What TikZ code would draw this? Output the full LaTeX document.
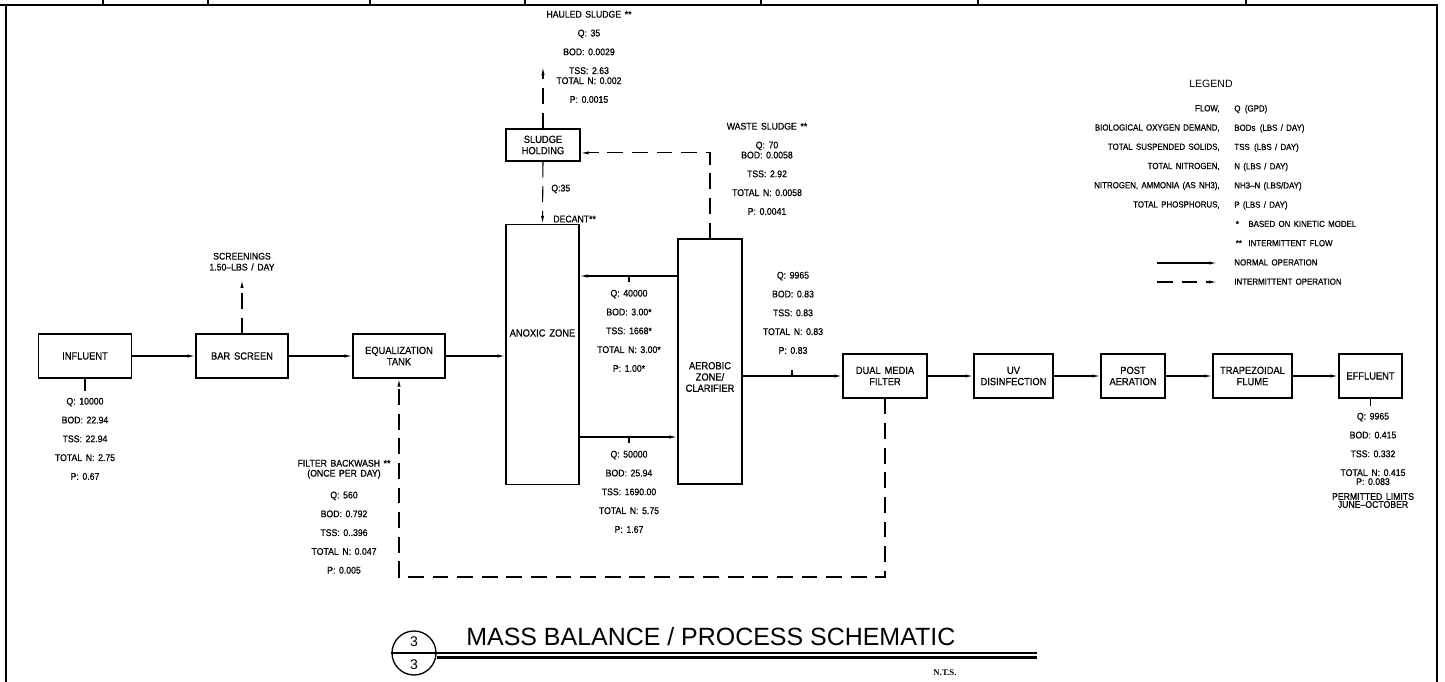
\documentclass[tikz,border=0pt]{standalone}
\usepackage{fontspec}
\setmainfont{Liberation Sans}[WordSpace=1.5,FakeStretch=0.9,FakeBold=0.6]
\newfontfamily\titlefont{Liberation Sans}
\newfontfamily\ntsfont{Liberation Serif}
\usetikzlibrary{arrows.meta,positioning}

\newcommand\lblsize{\fontsize{5.5}{10.7}\selectfont}
\newcommand\boxsize{\fontsize{5.9}{6.4}\selectfont}
\newcommand\lgdsize{\fontsize{5}{10.95}\selectfont}

\begin{document}
\begin{tikzpicture}[x=0.02cm,y=-0.02cm,>={Latex[length=4.5pt,width=1.8pt]},
  box/.style={draw,line width=0.75pt,minimum height=0.88cm,align=center,font=\boxsize,inner sep=1pt},
  flow/.style={line width=0.6pt,->},
  interm/.style={flow,dash pattern=on 9pt off 5pt},
  data/.style={align=center,font=\lblsize,inner sep=0pt,anchor=north},
  tick/.style={line width=0.6pt}]
\useasboundingbox (0,0) rectangle (1445,682);

% sheet frame
\draw[line width=0.8pt] (6,682) -- (6,5) -- (1437,5) -- (1437,682);
\draw[line width=0.8pt] (0,5) -- (6,5);
\foreach \x in {103,208,370,525,761,978,1246}
  \draw[line width=0.6pt] (\x,0) -- (\x,5);

% process units
\node[box,minimum width=1.86cm] (infl) at (85,356) {INFLUENT};
\node[box,minimum width=1.84cm] (bars) at (242,356) {BAR SCREEN};
\node[box,minimum width=1.84cm] (eqt) at (399,356) {EQUALIZATION\\TANK};
\node[box,minimum width=1.46cm,minimum height=5.2cm] (anox) at (542.5,354.5) {};
\node[font=\boxsize] (anoxtxt) at (542.5,333) {ANOXIC ZONE};
\node[box,minimum width=1.28cm,minimum height=4.9cm] (aero) at (710,361.5) {};
\node[font=\boxsize,align=center] (aerotxt) at (710,377) {AEROBIC\\ZONE/\\CLARIFIER};
\node[box,minimum width=1.48cm,minimum height=0.64cm] (sludge) at (543,145) {SLUDGE\\HOLDING};
\node[box,minimum width=1.68cm] (dmf) at (885,376) {DUAL MEDIA\\FILTER};
\node[box,minimum width=1.58cm] (uvd) at (1013.5,376) {UV\\DISINFECTION};
\node[box,minimum width=1.28cm] (post) at (1133,376) {POST\\AERATION};
\node[box,minimum width=1.58cm] (flume) at (1252.5,376) {TRAPEZOIDAL\\FLUME};
\node[box,minimum width=1.26cm] (effl) at (1370.5,376) {EFFLUENT};

% normal flow
\draw[flow] (infl) -- (bars);
\draw[flow] (bars) -- (eqt);
\draw[flow] (eqt) -- (anox.west |- eqt);
\coordinate (rec) at (629,276);
\coordinate (fwd) at (629,437);
\draw[flow] (aero.west |- rec) -- (anox.east |- rec);
\draw[flow] (anox.east |- fwd) -- (aero.west |- fwd);
\draw[tick] (rec) -- ++(0,6);
\draw[tick] (fwd) -- ++(0,6);
\draw[flow] (aero.east |- dmf) -- (dmf);
\coordinate (outtick) at (792,376);
\draw[tick] (outtick) -- ++(0,-6);
\draw[flow] (dmf) -- (uvd);
\draw[flow] (uvd) -- (post);
\draw[flow] (post) -- (flume);
\draw[flow] (flume) -- (effl);
\draw[tick] (infl.south) -- ++(0,12);
\draw[tick] (effl.south) -- ++(0,7);

% intermittent flow
\coordinate (scr) at (242,280);
\draw[interm] (bars.north) -- (scr);
\coordinate (haul) at (543,67);
\draw[interm] (sludge.north) -- (haul);
\draw[interm] (sludge.south) -- (anox.north);
\draw[interm] (aero.north) |- ([yshift=-4.5pt]sludge.east);
\coordinate (bw) at (399,577);
\draw[interm] (dmf.south) |- (bw) -- (eqt.south);

% stream data
\node[data] (scrlbl) at (242,252.5) {SCREENINGS\\[-4.5pt]1.50--LBS / DAY};
\node[data] (infdata) at (85,397.5) {Q: 10000\\BOD: 22.94\\TSS: 22.94\\TOTAL N: 2.75\\P: 0.67};
\node[data] (recdata) at (629,289.5) {Q: 40000\\BOD: 3.00*\\TSS: 1668*\\TOTAL N: 3.00*\\P: 1.00*};
\node[data] (fwddata) at (629,450.5) {Q: 50000\\BOD: 25.94\\TSS: 1690.00\\TOTAL N: 5.75\\P: 1.67};
\node[data] (outdata) at (793,271.5) {Q: 9965\\BOD: 0.83\\TSS: 0.83\\TOTAL N: 0.83\\P: 0.83};
\node[data] (effdata) at (1373,412.5) {Q: 9965\\BOD: 0.415\\TSS: 0.332\\TOTAL N: 0.415\\[-5.6pt]P: 0.083\\[-2.2pt]PERMITTED LIMITS\\[-6.2pt]JUNE--OCTOBER};
\node[data] (bwdata) at (344,459.5) {FILTER BACKWASH **\\[-5pt](ONCE PER DAY)\\[1.7pt]Q: 560\\BOD: 0.792\\TSS: 0..396\\TOTAL N: 0.047\\P: 0.005};
\node[data] (hauldata) at (589,10.5) {HAULED SLUDGE **\\Q: 35\\BOD: 0.0029\\TSS: 2.63\\[-5pt]TOTAL N: 0.002\\P: 0.0015};
\node[data] (wastedata) at (767,122.5) {WASTE SLUDGE **\\Q: 70\\[-5pt]BOD: 0.0058\\TSS: 2.92\\TOTAL N: 0.0058\\P: 0.0041};
\node[font=\lblsize,anchor=west,inner sep=0pt] (qdec) at (551,189) {Q:35};
\node[font=\lblsize,anchor=west,inner sep=0pt] (decant) at (553,219) {DECANT**};

% legend
\node[font=\titlefont\fontsize{6}{7}\selectfont] (lgd) at (1211,84) {LEGEND};
\node[anchor=north east,align=right,font=\lgdsize,inner sep=0pt] (lgdl) at (1220,104.8)
  {FLOW,\\BIOLOGICAL OXYGEN DEMAND,\\TOTAL SUSPENDED SOLIDS,\\TOTAL NITROGEN,\\NITROGEN, AMMONIA (AS NH3),\\TOTAL PHOSPHORUS,};
\node[anchor=north west,align=left,font=\lgdsize,inner sep=0pt] (lgdr) at (1234,104.8)
  {Q\enspace(GPD)\\BODs\enspace(LBS / DAY)\\TSS\enspace(LBS / DAY)\\N (LBS / DAY)\\NH3--N (LBS/DAY)\\P (LBS / DAY)\\
   \makebox[8pt][l]{\,*}BASED ON KINETIC MODEL\\\makebox[8pt][l]{\,**}INTERMITTENT FLOW\\NORMAL OPERATION\\INTERMITTENT OPERATION};
\coordinate (nA) at (1157,263);
\coordinate (nB) at (1217,263);
\coordinate (iA) at (1157,282);
\coordinate (iB) at (1217,282);
\draw[flow] (nA) -- (nB);
\draw[interm] (iA) -- (iB);

% title block
\node[draw,circle,line width=0.75pt,minimum size=0.88cm,inner sep=0pt] (tcirc) at (414,653) {};
\node[font=\titlefont\fontsize{8}{9}\selectfont] (tnum) at (414,642) {3};
\node[font=\titlefont\fontsize{8}{9}\selectfont] (tsht) at (414,665) {3};
\coordinate (tend) at (1037,653);
\draw[line width=0.6pt] (tcirc.west) -- (tend);
\draw[line width=1.6pt] ([yshift=-2.6pt]tcirc.east) -- ([yshift=-2.6pt]tend);
\node[anchor=base west,font=\titlefont\fontsize{14.2}{16}\selectfont,inner sep=0pt] (ttl) at (466,645) {MASS BALANCE / PROCESS SCHEMATIC};
\node[font=\ntsfont\bfseries\fontsize{5}{6}\selectfont] (nts) at (945,673) {N.T.S.};
\end{tikzpicture}
\end{document}
